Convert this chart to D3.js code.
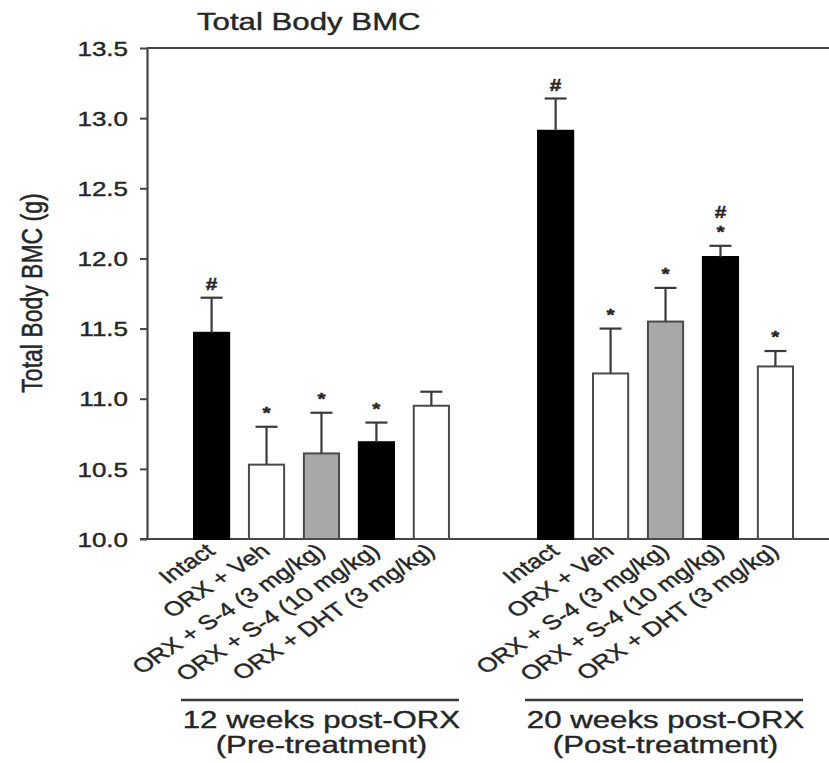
<!DOCTYPE html>
<html>
<head>
<meta charset="utf-8">
<style>
  body { margin: 0; background: #fff; }
  svg { display: block; font-family: "Liberation Sans", Arial, sans-serif; }
  svg text { stroke: #262626; stroke-width: 0.4px; }
</style>
</head>
<body>
<div id="chart"></div>
<script src="https://d3js.org/d3.v7.min.js"></script>
<script>
  // groups and treatments
  const groups = ["12 weeks post-ORX", "20 weeks post-ORX"];
  const groupSub = ["(Pre-treatment)", "(Post-treatment)"];
  const treatments = ["Intact", "ORX + Veh", "ORX + S-4 (3 mg/kg)", "ORX + S-4 (10 mg/kg)", "ORX + DHT (3 mg/kg)"];

  // mean and SE (upper error only), in g
  const week12Mean = [11.47, 10.53, 10.61, 10.69, 10.95];
  const week12Err  = [0.25, 0.27, 0.29, 0.14, 0.10];
  const week20Mean = [12.91, 11.18, 11.55, 12.01, 11.23];
  const week20Err  = [0.23, 0.32, 0.24, 0.08, 0.11];

  // significance marks, bottom to top
  const week12Marks = [["#"], ["*"], ["*"], ["*"], []];
  const week20Marks = [["#"], ["*"], ["*"], ["*", "#"], ["*"]];

  const yTicks = [10.0, 10.5, 11.0, 11.5, 12.0, 12.5, 13.0, 13.5];
  const fills = ["#000", "#fff", "#a8a8a8", "#000", "#fff"];

  const W = 829, H = 763;
  const SX = 1.3; // text in the picture is stretched sideways
  const ink = "#262626";

  const svg = d3.select("#chart").append("svg")
    .attr("width", W).attr("height", H);

  const y = d3.scaleLinear().domain([10, 13.5]).range([539, 48]);
  const xGroup = d3.scaleBand().domain(groups).range([194, 793]).paddingInner(0.259).paddingOuter(0);
  const xBar = d3.scaleBand().domain(treatments).range([0, xGroup.bandwidth()]).paddingInner(0.36).paddingOuter(0);

  const rows = [];
  groups.forEach((g, gi) => {
    const means = gi === 0 ? week12Mean : week20Mean;
    const errs = gi === 0 ? week12Err : week20Err;
    const marks = gi === 0 ? week12Marks : week20Marks;
    treatments.forEach((t, i) => {
      rows.push({ group: g, t, i, mean: means[i], err: errs[i], marks: marks[i] });
    });
  });
  const bx = d => xGroup(d.group) + xBar(d.t);
  const cx = d => bx(d) + xBar.bandwidth() / 2;

  // frame lines
  svg.append("line").attr("x1", 147).attr("x2", W).attr("y1", y(13.5)).attr("y2", y(13.5))
    .attr("stroke", "#444").attr("stroke-width", 2.2);
  svg.append("line").attr("x1", 140).attr("x2", W).attr("y1", y(10)).attr("y2", y(10))
    .attr("stroke", "#444").attr("stroke-width", 2.2);

  // y axis
  const yAxis = svg.append("g").attr("transform", "translate(147,0)")
    .call(d3.axisLeft(y).tickValues(yTicks).tickFormat(d3.format(".1f")).tickSize(7).tickSizeOuter(0));
  yAxis.select(".domain").attr("stroke", "#444").attr("stroke-width", 2.2);
  yAxis.selectAll(".tick line").attr("stroke", "#444").attr("stroke-width", 2);
  yAxis.selectAll(".tick text")
    .attr("x", -14.6).attr("dy", "0.36em")
    .attr("transform", `scale(${SX},1)`)
    .attr("font-size", 20).attr("fill", ink);

  // bars
  svg.append("g").selectAll("rect").data(rows).join("rect")
    .attr("x", bx)
    .attr("y", d => y(d.mean))
    .attr("width", xBar.bandwidth())
    .attr("height", d => y(10) - y(d.mean))
    .attr("fill", d => fills[d.i])
    .attr("stroke", d => fills[d.i] === "#000" ? "#000" : "#4a4a4a")
    .attr("stroke-width", 2);

  // error bars (upper only)
  const eb = svg.append("g").attr("stroke", "#3a3a3a").attr("stroke-width", 2.2);
  eb.selectAll("line.v").data(rows).join("line").attr("class", "v")
    .attr("x1", cx).attr("x2", cx)
    .attr("y1", d => y(d.mean)).attr("y2", d => y(d.mean + d.err));
  eb.selectAll("line.c").data(rows).join("line").attr("class", "c")
    .attr("x1", d => cx(d) - 11).attr("x2", d => cx(d) + 11)
    .attr("y1", d => y(d.mean + d.err)).attr("y2", d => y(d.mean + d.err));

  // significance marks
  rows.forEach(d => {
    d.marks.forEach((m, k) => {
      svg.append("text")
        .attr("transform", `translate(${cx(d)},${y(d.mean + d.err) - 8 - k * 20}) scale(${SX},1)`)
        .attr("text-anchor", "middle")
        .attr("font-size", 16)
        .attr("font-weight", "bold")
        .attr("fill", ink)
        .text(m);
    });
  });

  // category labels
  svg.append("g").selectAll("text").data(rows).join("text")
    .attr("transform", d => `translate(${cx(d) + 5},${553}) scale(${SX},1) rotate(-40.6)`)
    .attr("text-anchor", "end")
    .attr("font-size", 20)
    .attr("fill", ink)
    .text(d => d.t);

  // group brackets and labels
  groups.forEach((g, gi) => {
    const x0 = xGroup(g) - 13, x1 = xGroup(g) + xGroup.bandwidth() + 10;
    const mid = xGroup(g) + xGroup.bandwidth() / 2;
    svg.append("line").attr("x1", x0).attr("x2", x1).attr("y1", 700).attr("y2", 700)
      .attr("stroke", "#3a3a3a").attr("stroke-width", 2.4);
    svg.append("text")
      .attr("transform", `translate(${mid},728) scale(${SX},1)`)
      .attr("text-anchor", "middle").attr("font-size", 24).attr("fill", ink)
      .text(g);
    svg.append("text")
      .attr("transform", `translate(${mid},753) scale(${SX},1)`)
      .attr("text-anchor", "middle").attr("font-size", 24).attr("fill", ink)
      .text(groupSub[gi]);
  });

  // title and y label
  svg.append("text")
    .attr("transform", `translate(197,30) scale(${SX},1)`)
    .attr("font-size", 24).attr("fill", ink)
    .text("Total Body BMC");

  svg.append("text")
    .attr("transform", `translate(42,293) scale(${SX},1) rotate(-90)`)
    .attr("text-anchor", "middle")
    .attr("font-size", 23).attr("fill", ink)
    .text("Total Body BMC (g)");
</script>
</body>
</html>
